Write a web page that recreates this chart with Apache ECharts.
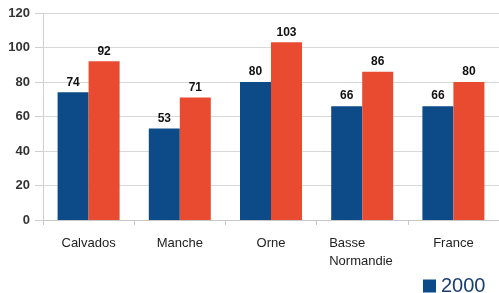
<!DOCTYPE html>
<html>
<head>
<meta charset="utf-8">
<script src="https://cdn.jsdelivr.net/npm/echarts@6/dist/echarts.min.js"></script>
<style>
  html, body { margin: 0; padding: 0; background: #fff; }
  #chart { width: 499px; height: 293px; }
</style>
</head>
<body>
<div id="chart"></div>
<script>
// données
const categories = ['Calvados', 'Manche', 'Orne', 'Basse\nNormandie', 'France'];
const values2000 = [74, 53, 80, 66, 66];
const valuesOther = [92, 71, 103, 86, 80];
const yTicks = { min: 0, max: 120, interval: 20 };

const chart = echarts.init(document.getElementById('chart'));

const labelStyle = {
  show: true,
  position: 'top',
  distance: 4,
  fontFamily: 'Liberation Sans',
  fontSize: 12,
  fontWeight: 'bold',
  color: '#111'
};

const option = {
  animation: false,
  grid: {
    left: 43,
    top: 13,
    width: 462,
    height: 207
  },
  legend: {
    data: ['2000'],
    left: 418,
    top: 271,
    itemWidth: 13,
    itemHeight: 13,
    itemGap: 6,
    icon: 'rect',
    textStyle: {
      fontFamily: 'Liberation Sans',
      fontSize: 20,
      color: '#1c3d70'
    }
  },
  xAxis: {
    type: 'category',
    data: categories,
    axisLine: { lineStyle: { color: '#c8c8c8' } },
    axisTick: { show: true, length: 5, lineStyle: { color: '#c8c8c8' } },
    axisLabel: {
      interval: 0,
      hideOverlap: false,
      margin: 14,
      fontFamily: 'Liberation Sans',
      fontSize: 13,
      color: '#222',
      lineHeight: 18,
      formatter: v => v.indexOf('\n') >= 0
        ? v.split('\n').map(s => '{l|' + s + '}').join('\n')
        : v,
      rich: {
        l: { width: 66, align: 'left', fontSize: 13, color: '#222', fontFamily: 'Liberation Sans', lineHeight: 18 }
      }
    }
  },
  yAxis: {
    type: 'value',
    min: yTicks.min,
    max: yTicks.max,
    interval: yTicks.interval,
    axisLine: { show: true, lineStyle: { color: '#d0d0d0' } },
    axisTick: { show: true, length: 8, lineStyle: { color: '#d0d0d0' } },
    splitLine: { lineStyle: { color: '#d8d8d8' } },
    axisLabel: {
      margin: 13,
      fontFamily: 'Liberation Sans',
      fontSize: 13,
      fontWeight: 'bold',
      color: '#333'
    }
  },
  series: [
    {
      name: '2000',
      type: 'bar',
      data: values2000,
      barWidth: 31,
      barGap: '0%',
      itemStyle: { color: '#0d4a88' },
      label: labelStyle
    },
    {
      name: 'autre',
      type: 'bar',
      data: valuesOther,
      barWidth: 31,
      itemStyle: { color: '#e84b30' },
      label: labelStyle
    }
  ]
};

chart.setOption(option);
</script>
</body>
</html>
